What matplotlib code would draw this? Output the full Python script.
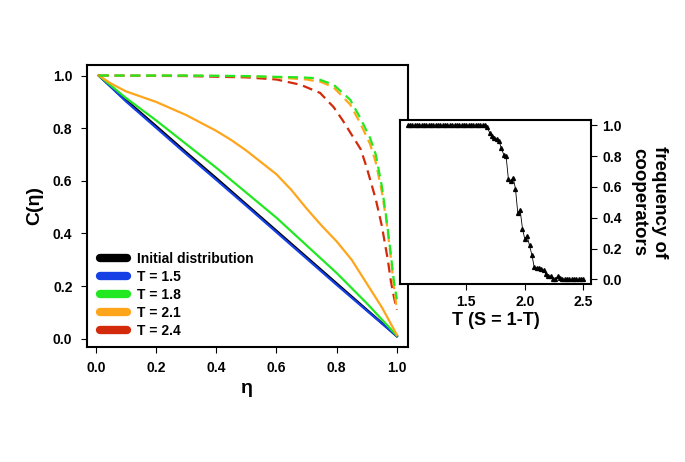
import matplotlib
matplotlib.use("Agg")
import matplotlib.pyplot as plt
from matplotlib.lines import Line2D

plt.rcParams['font.family'] = ['Liberation Sans', 'DejaVu Sans']
plt.rcParams['font.weight'] = 'bold'

# ---------------- data (main panel) ----------------
eta_solid = [0.01, 0.1, 0.2, 0.3, 0.4, 0.5, 0.6, 0.7, 0.8, 0.9, 1.0]
c_initial = [1.0, 0.907, 0.808, 0.708, 0.61, 0.51, 0.41, 0.31, 0.21, 0.11, 0.01]
c_t15 = [1.0, 0.902, 0.802, 0.702, 0.604, 0.505, 0.405, 0.305, 0.205, 0.107, 0.01]
c_t18 = [1.0, 0.915, 0.83, 0.74, 0.65, 0.555, 0.46, 0.355, 0.25, 0.135, 0.012]

eta_t21 = [0.01, 0.05, 0.1, 0.15, 0.2, 0.25, 0.3, 0.35, 0.4, 0.45, 0.5,
           0.55, 0.6, 0.65, 0.7, 0.75, 0.8, 0.85, 0.9, 0.95, 1.0]
c_t21 = [1.0, 0.97, 0.94, 0.92, 0.90, 0.875, 0.85, 0.82, 0.79, 0.755, 0.715,
         0.67, 0.625, 0.565, 0.495, 0.43, 0.37, 0.30, 0.21, 0.12, 0.015]

eta_d18 = [0.01, 0.3, 0.5, 0.6, 0.684, 0.73, 0.79, 0.845, 0.878, 0.911,
           0.93, 0.95, 0.965, 0.978, 0.99, 1.0]
c_d18 = [1.0, 1.0, 0.998, 0.995, 0.993, 0.99, 0.965, 0.908, 0.84, 0.763,
         0.70, 0.58, 0.46, 0.34, 0.22, 0.15]

eta_d21 = [0.01, 0.3, 0.5, 0.6, 0.7, 0.75, 0.79, 0.845, 0.878, 0.911,
           0.93, 0.95, 0.965, 0.978, 0.99, 1.0]
c_d21 = [1.0, 1.0, 0.997, 0.993, 0.985, 0.975, 0.955, 0.89, 0.82, 0.74,
         0.67, 0.56, 0.45, 0.33, 0.20, 0.11]

eta_d24 = [0.01, 0.3, 0.5, 0.6, 0.68, 0.745, 0.79, 0.82, 0.85, 0.88, 0.9,
           0.93, 0.95, 0.97, 0.98, 0.99, 1.0]
c_d24 = [1.0, 0.998, 0.993, 0.985, 0.965, 0.934, 0.88, 0.83, 0.775, 0.72, 0.65,
         0.53, 0.43, 0.30, 0.22, 0.16, 0.11]

legend_labels = ["Initial distribution", "T = 1.5", "T = 1.8", "T = 2.1", "T = 2.4"]

# ---------------- data (inset) ----------------
T_vals = [1.00, 1.02, 1.04, 1.06, 1.08, 1.10, 1.12, 1.14, 1.16, 1.18,
          1.20, 1.22, 1.24, 1.26, 1.28, 1.30, 1.32, 1.34, 1.36, 1.38,
          1.40, 1.42, 1.44, 1.46, 1.48, 1.50, 1.52, 1.54, 1.56, 1.58,
          1.60, 1.62, 1.64, 1.66, 1.68, 1.70, 1.72, 1.74, 1.76, 1.78,
          1.80, 1.82, 1.84, 1.86, 1.88, 1.90, 1.92, 1.94, 1.96, 1.98,
          2.00, 2.02, 2.04, 2.06, 2.08, 2.10, 2.12, 2.14, 2.16, 2.18,
          2.20, 2.22, 2.24, 2.26, 2.28, 2.30, 2.32, 2.34, 2.36, 2.38,
          2.40, 2.42, 2.44, 2.46, 2.48, 2.50]
freq_coop = [1.0, 1.0, 1.0, 1.0, 1.0, 1.0, 1.0, 1.0, 1.0, 1.0,
             1.0, 1.0, 1.0, 1.0, 1.0, 1.0, 1.0, 1.0, 1.0, 1.0,
             1.0, 1.0, 1.0, 1.0, 1.0, 1.0, 1.0, 1.0, 1.0, 1.0,
             1.0, 1.0, 1.0, 1.0, 0.99, 0.95, 0.93, 0.92, 0.91, 0.90,
             0.85, 0.81, 0.80, 0.65, 0.64, 0.66, 0.59, 0.43, 0.45, 0.33,
             0.26, 0.28, 0.22, 0.16, 0.08, 0.075, 0.075, 0.07, 0.06, 0.035,
             0.025, 0.02, 0.0, 0.0, 0.02, 0.01, 0.0, 0.0, 0.0, 0.0,
             0.0, 0.0, 0.0, 0.0, 0.0, 0.0]

# ---------------- styling ----------------
col_black = "#000000"
col_blue = "#1440e6"
col_green = "#22e822"
col_orange = "#ffa51c"
col_red = "#d42a0c"

fig = plt.figure(figsize=(6.85, 4.62), dpi=100)
ax = fig.add_axes([0.1266, 0.2496, 0.469, 0.6097])

dash = (0, (4.5, 2.6))
ax.plot(eta_solid, c_initial, color=col_black, lw=1.8, zorder=2)
ax.plot(eta_solid, c_t15, color=col_blue, lw=1.6, zorder=3)
ax.plot(eta_solid, c_t18, color=col_green, lw=1.6, zorder=3)
ax.plot(eta_t21, c_t21, color=col_orange, lw=1.6, zorder=3)
ax.plot(eta_d24, c_d24, color=col_red, lw=1.6, ls=dash, zorder=3)
ax.plot(eta_d21, c_d21, color=col_orange, lw=1.6, ls=dash, zorder=4)
ax.plot(eta_d18, c_d18, color=col_green, lw=1.6, ls=dash, zorder=5)

ax.set_xlim(-0.03, 1.037)
ax.set_ylim(-0.03, 1.04)
ax.set_xticks([0.0, 0.2, 0.4, 0.6, 0.8, 1.0])
ax.set_yticks([0.0, 0.2, 0.4, 0.6, 0.8, 1.0])
ax.set_xticklabels(["0.0", "0.2", "0.4", "0.6", "0.8", "1.0"])
ax.set_yticklabels(["0.0", "0.2", "0.4", "0.6", "0.8", "1.0"])
ax.tick_params(direction='out', length=4.3, width=0.8, labelsize=10, pad=6)
for s in ax.spines.values():
    s.set_linewidth(1.5)
ax.text(0.5, -0.147, "η", transform=ax.transAxes, ha='center', va='center',
        fontsize=14, fontweight='bold')
ax.text(-0.163, 0.5, "C(η)", transform=ax.transAxes, ha='center', va='center',
        rotation=90, fontsize=14, fontweight='bold')

handles = [Line2D([0], [0], color=c, lw=6, solid_capstyle='round')
           for c in [col_black, col_blue, col_green, col_orange, col_red]]
ax.legend(handles, legend_labels, loc='lower left', bbox_to_anchor=(0.042, 0.03),
          frameon=False, handlelength=1.95, handletextpad=0.68,
          labelspacing=0.29, borderpad=0, borderaxespad=0,
          prop={'weight': 'bold', 'size': 10})

# ---------------- inset ----------------
ins = fig.add_axes([0.584, 0.3853, 0.2788, 0.355])
ins.set_zorder(10)
ins.set_facecolor('white')
ins.plot(T_vals, freq_coop, color='black', lw=0.6, marker='^', markersize=2.8)
ins.set_xlim(0.935, 2.565)
ins.set_ylim(-0.03, 1.035)
ins.set_xticks([1.5, 2.0, 2.5])
ins.set_xticklabels(["1.5", "2.0", "2.5"])
ins.set_yticks([0.0, 0.2, 0.4, 0.6, 0.8, 1.0])
ins.set_yticklabels(["0.0", "0.2", "0.4", "0.6", "0.8", "1.0"])
ins.yaxis.tick_right()
ins.tick_params(direction='out', length=4.0, width=0.8, labelsize=10, pad=4)
for s in ins.spines.values():
    s.set_linewidth(1.5)
ins.text(0.5, -0.22, "T (S = 1-T)", transform=ins.transAxes, ha='center',
         va='center', fontsize=13, fontweight='bold')
ins.text(1.304, 0.5, "frequency of\ncooperators", transform=ins.transAxes,
         ha='center', va='center', rotation=-90, fontsize=13.5,
         fontweight='bold', multialignment='center', linespacing=1.25)

fig.savefig("out.png", dpi=100)
